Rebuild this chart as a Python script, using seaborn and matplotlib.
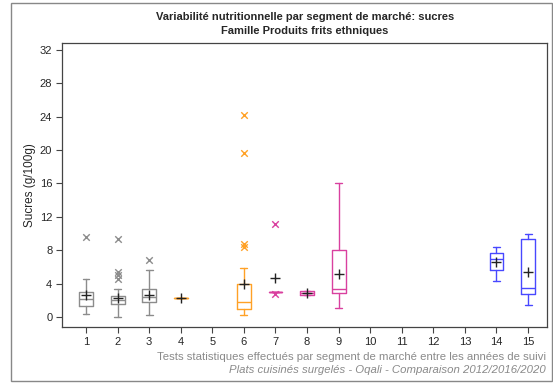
import matplotlib
matplotlib.use("Agg")
import matplotlib.pyplot as plt
import seaborn as sns
import pandas as pd
from matplotlib.patches import Rectangle

# Segments with data (x position = segment number)
segments = [1, 2, 3, 4, 6, 7, 8, 9, 14, 15]
q1 = [1.28, 1.52, 1.8, 2.3, 1.0, 3.0, 2.6, 2.84, 5.64, 2.8]
medians = [2.12, 2.04, 2.44, 2.3, 1.8, 3.0, 2.85, 3.4, 6.9, 3.44]
q3 = [3.0, 2.52, 3.4, 2.3, 3.92, 3.0, 3.1, 8.07, 7.67, 9.4]
whisk_lo = [0.32, 0.0, 0.24, 2.3, 0.2, 3.0, 2.6, 1.12, 4.32, 1.48]
whisk_hi = [4.55, 3.4, 5.67, 2.3, 5.9, 3.0, 3.1, 16.0, 8.4, 10.0]
means = [2.64, 2.24, 2.64, 2.3, 3.9, 4.63, 2.85, 5.16, 6.63, 5.43]
colors = ["#8c8c8c", "#8c8c8c", "#8c8c8c", "#ffa126", "#ffa126",
          "#d9409f", "#d9409f", "#d9409f", "#4848ff", "#4848ff"]

outlier_seg = [1, 2, 2, 2, 2, 3, 6, 6, 6, 6, 7, 7]
outlier_val = [9.63, 9.3, 5.4, 5.0, 4.6, 6.8, 24.2, 19.7, 8.75, 8.4, 11.2, 2.72]

x_ticks = list(range(1, 16))
y_ticks = list(range(0, 33, 4))

sns.set_style("ticks")
plt.rcParams["font.family"] = ["Liberation Sans", "DejaVu Sans"]

fig = plt.figure(figsize=(5.53, 3.83), dpi=100)
ax = fig.add_axes([62 / 553, 1 - 327 / 383, 485 / 553, 284 / 383])

seg_color = dict(zip(segments, colors))
for i, seg in enumerate(segments):
    stats = [{
        "q1": q1[i], "med": medians[i], "q3": q3[i],
        "whislo": whisk_lo[i], "whishi": whisk_hi[i], "fliers": [],
    }]
    c = colors[i]
    ax.bxp(stats, positions=[seg], widths=0.44, showfliers=False,
           boxprops=dict(color=c, linewidth=1.0),
           medianprops=dict(color=c, linewidth=1.0),
           whiskerprops=dict(color=c, linewidth=1.0),
           capprops=dict(color=c, linewidth=1.0),
           capwidths=0.22, manage_ticks=False)

out_df = pd.DataFrame({"seg": outlier_seg, "val": outlier_val})
out_df["color"] = out_df["seg"].map(seg_color)
for c, sub in out_df.groupby("color"):
    sns.scatterplot(data=sub, x="seg", y="val", marker="x", color=c,
                    s=22, linewidth=1.0, ax=ax, zorder=3)

mean_df = pd.DataFrame({"seg": segments, "mean": means})
sns.scatterplot(data=mean_df, x="seg", y="mean", marker="+", color="#222222",
                s=55, linewidth=1.0, ax=ax, zorder=4)

ax.set_xlim(0.24, 15.6)
ax.set_ylim(-1.2, 32.84)
ax.set_xticks(x_ticks)
ax.set_xticklabels([str(t) for t in x_ticks], fontsize=8)
ax.set_yticks(y_ticks)
ax.set_yticklabels([str(t) for t in y_ticks], fontsize=8)
ax.set_xlabel("")
ax.set_ylabel("Sucres (g/100g)", fontsize=8.5, labelpad=3)
ax.tick_params(direction="out", length=4, width=0.8, color="#444444", pad=3)
for sp in ax.spines.values():
    sp.set_visible(True)
    sp.set_color("#444444")
    sp.set_linewidth(0.9)

fig.text(305 / 553, 1 - 17 / 383, "Variabilité nutritionnelle par segment de marché: sucres",
         ha="center", va="center", fontsize=8, fontweight="bold")
fig.text(305 / 553, 1 - 31 / 383, "Famille Produits frits ethniques",
         ha="center", va="center", fontsize=8, fontweight="bold")
fig.text(546 / 553, 1 - 357 / 383,
         "Tests statistiques effectués par segment de marché entre les années de suivi",
         ha="right", va="center", fontsize=8.2, color="#8a8a8a")
fig.text(546 / 553, 1 - 370 / 383,
         "Plats cuisinés surgelés - Oqali - Comparaison 2012/2016/2020",
         ha="right", va="center", fontsize=8.2, color="#8a8a8a", style="italic")

fig.patches.append(Rectangle((11 / 553, 2 / 383), 541 / 553, 378 / 383,
                             transform=fig.transFigure, fill=False,
                             edgecolor="#888888", linewidth=1.0))

fig.savefig("out.png", dpi=100)
